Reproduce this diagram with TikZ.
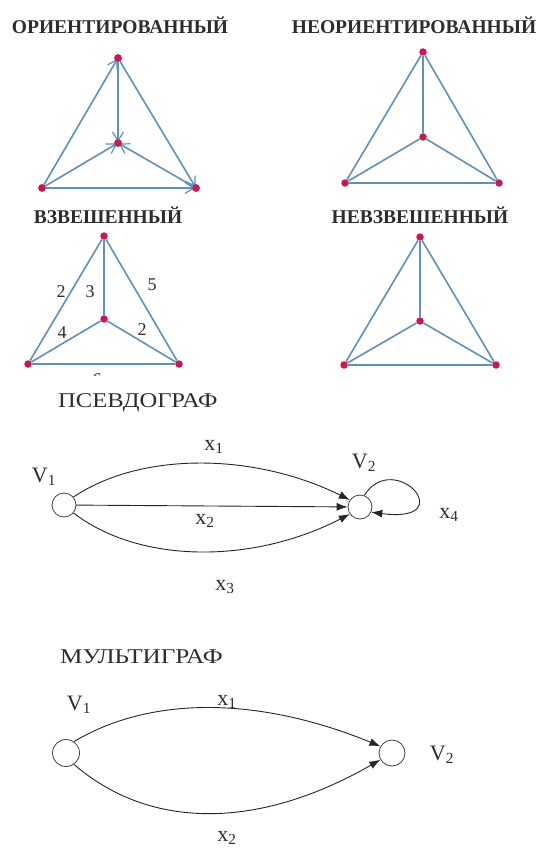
\documentclass[tikz,border=0pt]{standalone}
\usepackage{fontspec}
\setmainfont{Liberation Serif}
\usetikzlibrary{arrows.meta}
\definecolor{edgeblue}{RGB}{95,145,185}
\definecolor{vertred}{RGB}{200,25,85}
\definecolor{titlegray}{RGB}{45,45,45}
\begin{document}
\begin{tikzpicture}[x=1pt,y=-1pt,
  vert/.style={circle,fill=vertred,inner sep=0pt,minimum size=7.5pt},
  gedge/.style={draw=edgeblue,line width=1.6pt},
  darr/.style={gedge,-{Straight Barb[length=9pt,width=11pt,line width=1.2pt]},shorten >=-3pt},
  toptitle/.style={font=\fontsize{19.5}{20}\selectfont\bfseries,text=titlegray,inner sep=0pt},
  ttl/.style={font=\fontsize{21}{22}\selectfont,text=titlegray,inner sep=0pt},
  wlab/.style={font=\fontsize{18}{19}\selectfont,text=titlegray,inner sep=0pt},
  glab/.style={font=\fontsize{22}{23}\selectfont,text=titlegray,inner sep=0pt},
  pnode/.style={circle,draw=black!75,line width=0.8pt,fill=white,inner sep=0pt},
  parr/.style={draw=black!85,line width=0.9pt,-{Latex[length=11pt,width=8pt]}},
]
\useasboundingbox[fill=white] (0,0) rectangle (542,850);

% ---------- oriented
\node[toptitle] (t1) at (120,25) {ОРИЕНТИРОВАННЫЙ};
\node[vert] (a1) at (118,58) {};
\node[vert] (a2) at (118,143) {};
\node[vert] (a3) at (42,188) {};
\node[vert] (a4) at (196,188) {};
\draw[darr] (a1) -- (a2);
\draw[darr] (a3) -- (a1);
\draw[darr] (a3) -- (a2);
\draw[darr] (a4) -- (a2);
\draw[darr] (a3) -- (a4);
\draw[darr] (a1) -- (a4);
\node[vert] at (a1) {};
\node[vert] at (a2) {};
\node[vert] at (a3) {};
\node[vert] at (a4) {};

% ---------- undirected
\node[toptitle] (t2) at (414,25) {НЕОРИЕНТИРОВАННЫЙ};
\node[vert] (b1) at (423,52) {};
\node[vert] (b2) at (423,137) {};
\node[vert] (b3) at (345,183) {};
\node[vert] (b4) at (499,183) {};
\draw[gedge] (b1) -- (b2) (b1) -- (b3) (b1) -- (b4) (b2) -- (b3) (b2) -- (b4) (b3) -- (b4);

% ---------- weighted
\node[toptitle] (t3) at (108,215) {ВЗВЕШЕННЫЙ};
\node[vert] (c1) at (104,236) {};
\node[vert] (c2) at (104,319) {};
\node[vert] (c3) at (28,364) {};
\node[vert] (c4) at (179,364) {};
\draw[gedge] (c1) -- (c2) (c1) -- (c3) (c1) -- (c4) (c2) -- (c3) (c2) -- (c4) (c3) -- (c4);
\node[wlab] (w1) at (61,292) {2};
\node[wlab] (w2) at (90,292) {3};
\node[wlab] (w3) at (152,285) {5};
\node[wlab] (w4) at (62,333) {4};
\node[wlab] (w5) at (142,330) {2};
\begin{scope}
\clip (60,369) rectangle (140,375);
\node[wlab] (w6) at (97,380) {6};
\end{scope}

% ---------- unweighted
\node[toptitle] (t4) at (420,215) {НЕВЗВЕШЕННЫЙ};
\node[vert] (d1) at (420,237) {};
\node[vert] (d2) at (420,321) {};
\node[vert] (d3) at (344,365) {};
\node[vert] (d4) at (496,365) {};
\draw[gedge] (d1) -- (d2) (d1) -- (d3) (d1) -- (d4) (d2) -- (d3) (d2) -- (d4) (d3) -- (d4);

% ---------- pseudograph
\node[ttl,anchor=west] (t5) at (58,403) {\scalebox{1.17}[1]{ПСЕВДОГРАФ}};
\node[pnode,minimum size=24pt] (p1) at (64,505) {};
\node[pnode,minimum size=24pt] (p2) at (360,507) {};
\draw[parr] (p1.40) .. controls (140,452) and (253,452) .. (p2.145);
\draw[parr] (p1) -- (p2);
\draw[parr] (p1.-40) .. controls (140,564) and (253,564) .. (p2.-145);
\draw[parr] (p2.70) .. controls (395,448) and (462,524) .. (p2.-25);
\node[glab] (lv1) at (44,477) {V\textsubscript{1}};
\node[glab] (lv2) at (364,463) {V\textsubscript{2}};
\node[glab] (lx1) at (214,447) {x\textsubscript{1}};
\node[glab] (lx2) at (205,521) {x\textsubscript{2}};
\node[glab] (lx3) at (225,587) {x\textsubscript{3}};
\node[glab] (lx4) at (449,515) {x\textsubscript{4}};

% ---------- multigraph
\node[ttl,anchor=west] (t6) at (60,657) {\scalebox{1.2}[1]{МУЛЬТИГРАФ}};
\node[pnode,minimum size=27pt] (m1) at (66,753) {};
\node[pnode,minimum size=26pt] (m2) at (392,753) {};
\draw[parr] (m1.55) .. controls (150,696) and (258,696) .. (m2.150);
\draw[parr] (m1.-55) .. controls (150,830) and (258,830) .. (m2.-150);
\node[glab] (mv1) at (79,705) {V\textsubscript{1}};
\node[glab] (mv2) at (442,755) {V\textsubscript{2}};
\node[glab] (mx1) at (227,702) {x\textsubscript{1}};
\node[glab] (mx2) at (227,838) {x\textsubscript{2}};
\end{tikzpicture}
\end{document}
